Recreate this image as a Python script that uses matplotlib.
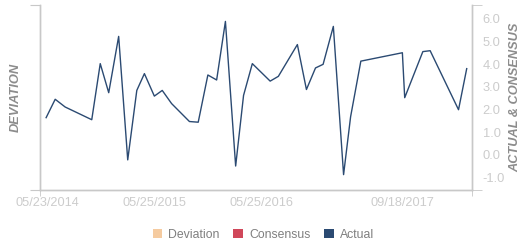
import pandas as pd
import matplotlib.pyplot as plt
from matplotlib.patches import Patch

plt.rcParams['font.family'] = ['Liberation Sans', 'DejaVu Sans']

# 数据
dates = ['2014-05-20', '2014-06-20', '2014-07-24', '2014-10-23', '2014-11-21',
         '2014-12-20', '2015-01-23', '2015-02-23', '2015-03-26', '2015-04-21',
         '2015-05-25', '2015-06-21', '2015-07-23', '2015-09-22', '2015-10-22',
         '2015-11-24', '2015-12-24', '2016-01-23', '2016-02-27', '2016-03-25',
         '2016-04-24', '2016-06-24', '2016-07-22', '2016-09-25', '2016-10-26',
         '2016-11-26', '2016-12-22', '2017-01-26', '2017-03-02', '2017-03-26',
         '2017-04-30', '2017-09-19', '2017-09-27', '2017-11-28', '2017-12-23',
         '2018-03-30', '2018-04-27']
actual = [1.64, 2.45, 2.11, 1.55, 4.02, 2.74, 5.22, -0.22, 2.84, 3.58,
          2.59, 2.84, 2.26, 1.47, 1.44, 3.52, 3.30, 5.88, -0.49, 2.62,
          4.02, 3.25, 3.46, 4.86, 2.88, 3.83, 3.99, 5.66, -0.87, 1.68,
          4.13, 4.50, 2.52, 4.55, 4.59, 1.99, 3.80]
tick_dates = ['2014-05-23', '2015-05-25', '2016-05-25', '2017-09-18']
tick_labels = ['05/23/2014', '05/25/2015', '05/25/2016', '09/18/2017']
y_ticks = [-1, 0, 1, 2, 3, 4, 5, 6]
legend_names = ['Deviation', 'Consensus', 'Actual']
legend_colors = ['#F5CBA0', '#D0475A', '#2B4A72']

x = pd.to_datetime(dates)
xlim = pd.to_datetime(['2014-04-29', '2018-05-14'])
ylim = (-1.56, 6.59)

axis_col = '#C8C8C8'
label_col = '#CCCCCC'
title_col = '#8C8C8C'

fig = plt.figure(figsize=(5.31, 2.5), dpi=100)
ax = fig.add_axes([0.0753, 0.2388, 0.813, 0.74])
ax2 = ax.twinx()

ax2.plot(x, actual, color='#2B4A72', lw=1.0)

ax.set_xlim(xlim)
ax2.set_ylim(ylim)
ax.set_ylim(ylim)

for a in (ax, ax2):
    a.spines['top'].set_visible(False)
    for s in ('left', 'right', 'bottom'):
        a.spines[s].set_color(axis_col)
        a.spines[s].set_linewidth(1.0)

# x 轴
ax.set_xticks(pd.to_datetime(tick_dates))
ax.set_xticklabels(tick_labels)
ax.set_xticks(xlim, minor=True)
ax.tick_params(axis='x', which='major', length=0, pad=5, labelsize=9.2, labelcolor=label_col)
ax.tick_params(axis='x', which='minor', length=4, color=axis_col, direction='out')

# 左轴
ax.set_yticks(ylim)
ax.set_yticklabels([])
ax.tick_params(axis='y', length=7, color=axis_col, direction='out')

# 右轴
ax2.set_yticks(y_ticks)
ax2.set_yticklabels([f'{v:.1f}' for v in y_ticks])
ax2.set_yticks(ylim, minor=True)
ax2.tick_params(axis='y', which='major', length=0, pad=8, labelsize=9.3, labelcolor=label_col)
ax2.tick_params(axis='y', which='minor', length=7, color=axis_col, direction='out')

# 轴标题
fig.text(16 / 531, 1 - 97.5 / 250, 'DEVIATION', rotation=90, ha='center', va='center',
         color=title_col, fontsize=9.3, fontstyle='italic', fontweight='bold')
fig.text(515 / 531, 1 - 97.5 / 250, 'ACTUAL & CONSENSUS', rotation=90, ha='center', va='center',
         color=title_col, fontsize=9.2, fontstyle='italic', fontweight='bold')

handles = [Patch(facecolor=c, edgecolor='none') for c in legend_colors]
fig.legend(handles, legend_names, loc='center', bbox_to_anchor=(0.496, 0.062),
           ncol=3, frameon=False, fontsize=8.8, labelcolor='#7F7F7F',
           handlelength=0.8, handleheight=0.8, handletextpad=0.5, columnspacing=1.1)

plt.savefig('out.png', dpi=100)
plt.close()
